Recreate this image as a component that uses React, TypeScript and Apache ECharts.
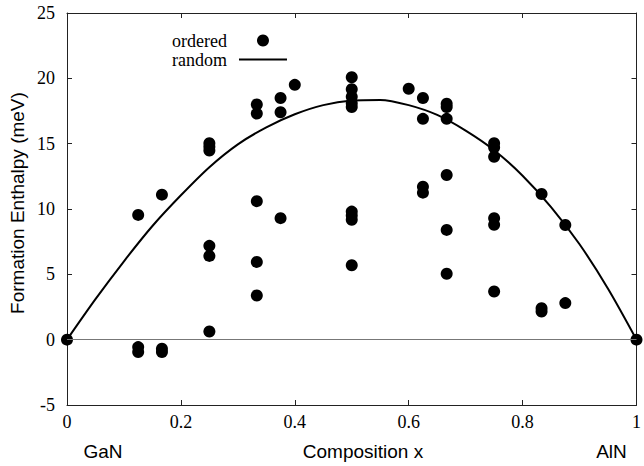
import React, { useEffect, useRef } from "react";
import * as echarts from "echarts";

// ordered structures: [composition x, formation enthalpy (meV)]
const orderedPoints: [number, number][] = [
  [0, 0],
  [0.125, 9.55], [0.125, -0.57], [0.125, -0.95],
  [0.1667, 11.1], [0.1667, -0.7], [0.1667, -0.95],
  [0.25, 15.03], [0.25, 14.77], [0.25, 14.47], [0.25, 7.18], [0.25, 6.41], [0.25, 0.63],
  [0.3333, 18.0], [0.3333, 17.3], [0.3333, 10.6], [0.3333, 5.95], [0.3333, 3.38],
  [0.375, 18.5], [0.375, 17.4], [0.375, 9.3],
  [0.4, 19.5],
  [0.5, 20.08], [0.5, 19.16], [0.5, 18.6], [0.5, 18.1], [0.5, 17.8], [0.5, 9.8], [0.5, 9.5], [0.5, 9.17], [0.5, 5.7],
  [0.6, 19.2],
  [0.625, 18.5], [0.625, 16.9], [0.625, 11.7], [0.625, 11.25],
  [0.6667, 18.05], [0.6667, 17.8], [0.6667, 16.9], [0.6667, 12.6], [0.6667, 8.4], [0.6667, 5.04],
  [0.75, 15.03], [0.75, 14.7], [0.75, 14.0], [0.75, 9.3], [0.75, 8.8], [0.75, 3.69],
  [0.8333, 11.15], [0.8333, 2.41], [0.8333, 2.16],
  [0.875, 8.78], [0.875, 2.8],
  [1, 0],
];

// random alloy curve
const randomX = [0, 0.05, 0.1, 0.15, 0.2, 0.25, 0.3, 0.35, 0.4, 0.45, 0.5, 0.55, 0.6, 0.65, 0.7, 0.75, 0.8, 0.85, 0.9, 0.95, 1];
const randomY = [0, 3.1, 6.0, 8.7, 11.05, 13.2, 14.95, 16.25, 17.25, 17.95, 18.3, 18.35, 17.95, 17.2, 16.0, 14.5, 12.55, 10.15, 7.3, 3.9, 0];

const xTicks = { min: 0, max: 1, interval: 0.2 };
const yTicks = { min: -5, max: 25, interval: 5 };

const SERIF = "Liberation Serif";
const SANS = "Liberation Sans";

export default function App() {
  const ref = useRef<HTMLDivElement>(null);
  useEffect(() => {
    if (!ref.current) return;
    const chart = echarts.init(ref.current, null, { renderer: "svg" });
    const serifRich = { t: { color: "#000", fontFamily: SERIF, fontSize: 18 } };
    const tickLabel = {
      color: "#000",
      fontFamily: SERIF,
      fontSize: 18,
      formatter: (v: number) => `{t|${v}}`,
      rich: serifRich,
    };
    const frame = { color: "#222", width: 1 };
    chart.setOption({
      animation: false,
      backgroundColor: "#fff",
      textStyle: { fontFamily: SERIF },
      grid: { left: 67, right: 2, top: 13, bottom: 61 },
      legend: {
        data: [
          { name: "ordered" },
          { name: "random", icon: "path://M0,0H48V2H0Z" },
        ],
        orient: "vertical",
        align: "right",
        left: 167,
        top: 26.5,
        itemWidth: 48,
        itemHeight: 12,
        itemGap: 1,
        selectedMode: false,
        textStyle: { color: "#000", fontFamily: SERIF, fontSize: 18, lineHeight: 18, padding: [0, 7, 0, 0] },
      },
      xAxis: [
        {
          type: "value",
          ...xTicks,
          position: "bottom",
          axisLine: { onZero: false, lineStyle: frame },
          axisTick: { inside: true, length: 5, lineStyle: frame },
          axisLabel: { ...tickLabel, margin: 8 },
          splitLine: { show: false },
        },
        {
          type: "value",
          ...xTicks,
          position: "top",
          axisLine: { onZero: false, lineStyle: frame },
          axisTick: { inside: true, length: 5, lineStyle: frame },
          axisLabel: { show: false },
          splitLine: { show: false },
        },
      ],
      yAxis: [
        {
          type: "value",
          ...yTicks,
          position: "left",
          axisLine: { show: true, onZero: false, lineStyle: frame },
          axisTick: { show: true, inside: true, length: 5, lineStyle: frame },
          axisLabel: { ...tickLabel, margin: 12 },
          splitLine: { show: false },
        },
        {
          type: "value",
          ...yTicks,
          position: "right",
          axisLine: { show: true, onZero: false, lineStyle: frame },
          axisTick: { show: true, inside: true, length: 5, lineStyle: frame },
          axisLabel: { show: false },
          splitLine: { show: false },
        },
      ],
      series: [
        {
          name: "ordered",
          type: "scatter",
          data: orderedPoints,
          symbol: "circle",
          symbolSize: 12,
          itemStyle: { color: "#000", opacity: 1 },
          clip: false,
          z: 3,
        },
        {
          name: "random",
          type: "line",
          data: randomX.map((x, i) => [x, randomY[i]]),
          smooth: 0.3,
          symbol: "none",
          showSymbol: false,
          lineStyle: { color: "#000", width: 2 },
          itemStyle: { color: "#000" },
          z: 2,
          markLine: {
            silent: true,
            symbol: "none",
            label: { show: false },
            lineStyle: { color: "#777", width: 1, type: "solid" },
            data: [{ yAxis: 0 }],
          },
        },
      ],
      graphic: [
        {
          type: "text",
          x: 17.5,
          y: 203,
          rotation: Math.PI / 2,
          style: {
            text: "Formation Enthalpy (meV)",
            fill: "#000",
            fontFamily: SANS,
            fontSize: 19,
            textAlign: "center",
            textVerticalAlign: "middle",
          },
        },
        {
          type: "text",
          x: 103,
          y: 451,
          style: { text: "GaN", fill: "#000", fontFamily: SANS, fontSize: 19, textAlign: "center", textVerticalAlign: "middle" },
        },
        {
          type: "text",
          x: 363,
          y: 451,
          style: { text: "Composition x", fill: "#000", fontFamily: SANS, fontSize: 19, textAlign: "center", textVerticalAlign: "middle" },
        },
        {
          type: "text",
          x: 611.5,
          y: 451,
          style: { text: "AlN", fill: "#000", fontFamily: SANS, fontSize: 19, textAlign: "center", textVerticalAlign: "middle" },
        },
      ],
    });
    return () => chart.dispose();
  }, []);
  return (
    <div
      ref={ref}
      style={{ position: "fixed", left: 0, top: 0, width: 644, height: 466, background: "#fff" }}
    />
  );
}
